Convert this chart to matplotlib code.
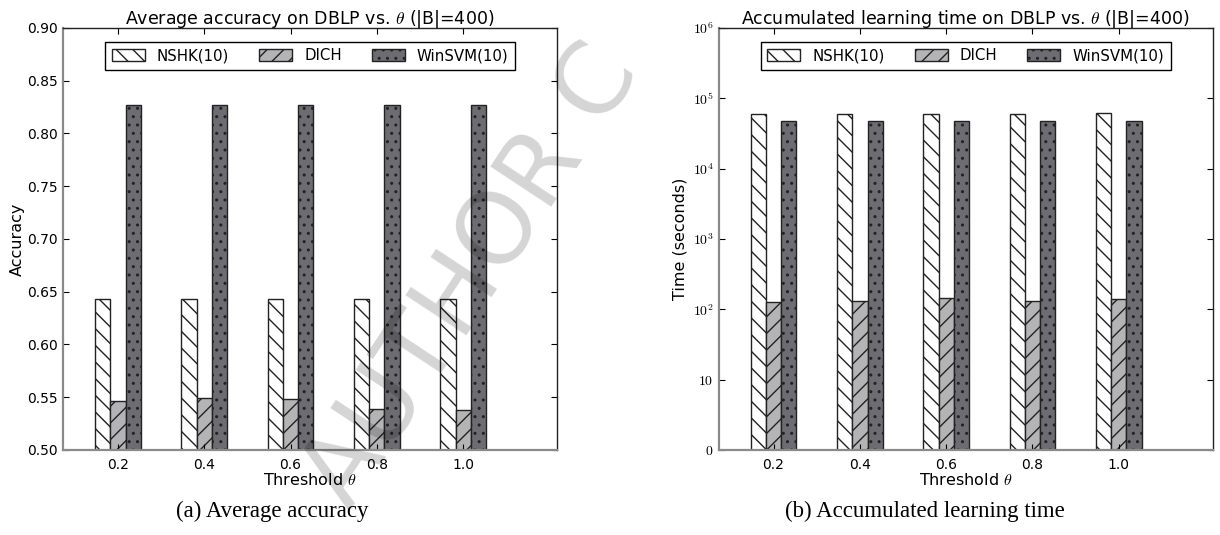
import numpy as np
import matplotlib
matplotlib.use('Agg')
import matplotlib.pyplot as plt
from matplotlib.ticker import FixedLocator, NullLocator

plt.rcParams['font.family'] = ['DejaVu Sans']
plt.rcParams['mathtext.fontset'] = 'cm'
plt.rcParams['hatch.linewidth'] = 1.0

# data
thresholds = ['0.2', '0.4', '0.6', '0.8', '1.0']
methods = ['NSHK(10)', 'DICH', 'WinSVM(10)']

acc_nshk = [0.643, 0.643, 0.643, 0.643, 0.643]
acc_dich = [0.546, 0.549, 0.548, 0.539, 0.538]
acc_winsvm = [0.827, 0.827, 0.827, 0.827, 0.827]

time_nshk = [5.9e4, 5.9e4, 5.9e4, 5.9e4, 6.1e4]
time_dich = [126, 130, 145, 130, 138]
time_winsvm = [4.8e4, 4.8e4, 4.7e4, 4.7e4, 4.7e4]

colors = ['white', '#b4b4b6', '#6c6c72']
hatches = ['\\\\', '//', '..']

ind = np.arange(len(thresholds))
width = 0.177

fig = plt.figure(figsize=(12.2, 5.35), dpi=100)
ax1 = fig.add_axes([0.0516, 0.159, 0.405, 0.789])
ax2 = fig.add_axes([0.589, 0.159, 0.405, 0.789])


def draw_bars(ax, series):
    bars = []
    for k, vals in enumerate(series):
        b = ax.bar(ind + (k - 1) * width, vals, width, color=colors[k],
                   edgecolor='#222222', linewidth=1.0, hatch=hatches[k])
        bars.append(b)
    return bars


def style_axes(ax):
    ax.set_xlim(-0.637, 5.088)
    ax.set_xticks(ind)
    ax.set_xticklabels(thresholds)
    ax.tick_params(direction='in', top=True, right=True, length=4, labelsize=10)
    ax.tick_params(axis='x', pad=6)
    for s in ['left', 'bottom']:
        ax.spines[s].set_color('#8a8a8a')
        ax.spines[s].set_linewidth(1.6)
    for s in ['top', 'right']:
        ax.spines[s].set_color('#222222')
        ax.spines[s].set_linewidth(1.0)
    ax.set_xlabel(r'Threshold $\theta$', fontsize=11.5, labelpad=0)


def add_legend(ax, bars):
    leg = ax.legend(bars, methods, loc='upper center', bbox_to_anchor=(0.5, 0.985), ncol=3,
                    fontsize=10.8, fancybox=False, edgecolor='black', framealpha=1,
                    handlelength=2.2, handleheight=0.9, handletextpad=0.8,
                    columnspacing=2.0, borderpad=0.45)
    leg.get_frame().set_linewidth(1.0)


# (a) accuracy
bars = draw_bars(ax1, [acc_nshk, acc_dich, acc_winsvm])
ax1.set_ylim(0.50, 0.90)
acc_ticks = np.arange(0.50, 0.901, 0.05)
ax1.set_yticks(acc_ticks)
ax1.set_yticklabels(['%.2f' % v for v in acc_ticks])
style_axes(ax1)
ax1.set_ylabel('Accuracy', fontsize=11.5, labelpad=2)
ax1.set_title(r'Average accuracy on DBLP vs. $\theta$ (|B|=400)', fontsize=12.5, pad=3)
add_legend(ax1, bars)

# (b) time
bars = draw_bars(ax2, [time_nshk, time_dich, time_winsvm])
ax2.set_yscale('symlog', linthresh=10, linscale=0.9)
ax2.set_ylim(0, 1e6)
yt = [0, 10, 1e2, 1e3, 1e4, 1e5, 1e6]
ax2.yaxis.set_major_locator(FixedLocator(yt))
ax2.yaxis.set_minor_locator(NullLocator())
ax2.set_yticklabels(['$0$', '$10$', '$10^{2}$', '$10^{3}$', '$10^{4}$', '$10^{5}$', '$10^{6}$'])
style_axes(ax2)
ax2.set_ylabel('Time (seconds)', fontsize=11.5)
ax2.set_title(r'Accumulated learning time on DBLP vs. $\theta$ (|B|=400)', fontsize=12.5, pad=3)
add_legend(ax2, bars)

# captions
fig.text(272 / 1220, 1 - 511 / 535, '(a) Average accuracy', ha='center', va='center',
         family='Liberation Serif', fontsize=16.5)
fig.text(925 / 1220, 1 - 511 / 535, '(b) Accumulated learning time', ha='center', va='center',
         family='Liberation Serif', fontsize=16.5)

# watermark
fig.text(350 / 1220, 1 - 512 / 535, 'AUTHOR C', ha='left', va='baseline',
         rotation=56.6, rotation_mode='anchor', fontsize=72, color='black',
         alpha=0.17, zorder=10)

fig.savefig('out.png', dpi=100)
